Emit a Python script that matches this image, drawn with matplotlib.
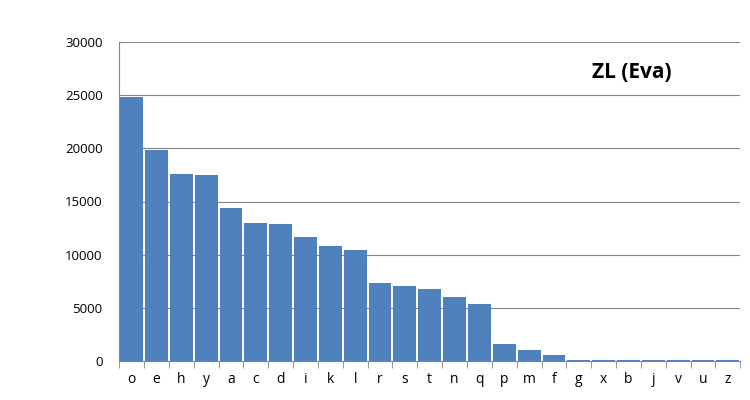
import matplotlib
matplotlib.use("Agg")
from matplotlib import pyplot as plt

# letter frequencies
letters = ["o", "e", "h", "y", "a", "c", "d", "i", "k", "l", "r", "s", "t",
           "n", "q", "p", "m", "f", "g", "x", "b", "j", "v", "u", "z"]
counts = [24800, 19830, 17580, 17480, 14400, 12990, 12880, 11660, 10830, 10450,
          7340, 7060, 6780, 6030, 5370, 1600, 1030, 520, 120, 110, 110, 110,
          110, 110, 110]
title = "ZL (Eva)"

plt.rcParams["font.family"] = ["Open Sans", "DejaVu Sans"]

fig = plt.figure(figsize=(7.5, 4), dpi=100)
ax = fig.add_axes([0.159, 0.0975, 0.828, 0.7975])

x = range(len(letters))
ax.bar(x, counts, width=0.92, color="#4f81bd", zorder=2)

ax.set_xlim(-0.5, len(letters) - 0.5)
ax.set_ylim(0, 30000)
ax.set_yticks(range(0, 30001, 5000))
ax.yaxis.grid(True, color="#868686", linewidth=0.8, zorder=0)
ax.tick_params(axis="y", length=0, labelsize=9.5, pad=12)

ax.set_xticks(list(x))
ax.set_xticklabels(letters, fontsize=10)
ax.set_xticks([i - 0.5 for i in range(len(letters) + 1)], minor=True)
ax.tick_params(axis="x", which="major", length=0, pad=8)
ax.tick_params(axis="x", which="minor", length=5, color="#868686", direction="out")

for side in ("top", "right"):
    ax.spines[side].set_visible(False)
for side in ("left", "bottom"):
    ax.spines[side].set_color("#868686")
    ax.spines[side].set_linewidth(0.8)

ax.text(0.826, 0.905, title, transform=ax.transAxes, ha="center", va="center",
        fontsize=15, fontweight="bold")

fig.savefig("out.png")
